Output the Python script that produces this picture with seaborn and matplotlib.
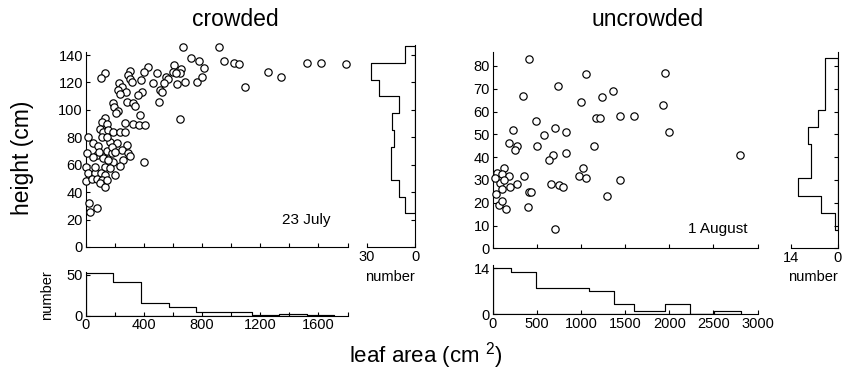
import numpy as np
import pandas as pd
import matplotlib
matplotlib.use("Agg")
import matplotlib.pyplot as plt
import seaborn as sns

# ---------------- data ----------------
crowded_area = [132, 103, 308, 288, 304, 320, 429, 402, 464, 379, 231, 251, 219, 274, 235, 384,
                361, 281, 327, 338, 190, 196, 219, 206, 372, 132, 110, 144, 98, 121, 155, 190,
                270, 322, 368, 407, 235, 270, 18, 48, 87, 11, 75, 121, 144, 167, 212, 281, 247,
                292, 304, 258, 190, 235, 132, 167, 121, 400, 3, 18, 64, 103, 132, 201, 5, 41, 75,
                110, 98, 132, 25, 75, 30, 669, 914, 722, 779, 811, 950, 1023, 1057, 1092, 608,
                601, 658, 646, 624, 493, 555, 566, 539, 509, 525, 628, 685, 765, 802, 502, 646,
                1252, 1345, 1519, 1617, 1790, 53, 94, 64, 155, 178, 148, 110, 178, 201, 144]
crowded_height = [127.1, 123.5, 128.6, 125.4, 122.3, 120.1, 131.0, 127.4, 119.8, 121.8, 119.8,
                  116.9, 114.5, 113.3, 111.3, 113.3, 110.9, 105.5, 104.8, 103.1, 105.3, 101.9,
                  99.2, 97.5, 96.3, 93.8, 91.4, 89.7, 85.8, 84.1, 85.3, 84.1, 90.2, 89.7, 89.0,
                  89.0, 84.1, 84.1, 80.0, 75.6, 73.7, 68.3, 67.1, 66.4, 70.0, 76.8, 76.1, 74.4,
                  70.7, 68.3, 66.4, 63.4, 62.2, 59.1, 58.6, 57.4, 64.7, 62.2, 58.6, 53.7, 53.7,
                  53.7, 52.5, 52.5, 48.4, 49.3, 49.3, 48.9, 46.9, 44.0, 32.3, 28.2, 25.8, 145.6,
                  145.6, 137.6, 135.7, 130.3, 135.9, 133.9, 133.2, 116.9, 132.7, 127.9, 129.6,
                  126.7, 126.7, 126.7, 124.2, 122.3, 119.8, 114.5, 113.3, 118.9, 120.6, 120.6,
                  123.7, 105.5, 93.1, 127.9, 123.7, 134.0, 134.0, 133.5, 65.9, 69.5, 58.6, 63.4,
                  68.3, 48.9, 80.5, 73.2, 69.5, 80.5]

uncrowded_area = [416, 1059, 1948, 738, 348, 1362, 1237, 999, 1933, 492, 1173, 1218, 1438, 1596,
                  235, 579, 707, 828, 1994, 185, 280, 257, 499, 1150, 681, 639, 832, 2807, 45,
                  129, 110, 189, 83, 129, 34, 110, 197, 272, 356, 416, 431, 76, 106, 151, 397,
                  658, 749, 802, 976, 1018, 1059, 1438, 1298, 704, 23]
uncrowded_height = [83.1, 76.5, 77.1, 71.2, 67.0, 69.2, 66.4, 64.4, 62.9, 56.0, 57.0, 57.0, 58.2,
                    58.2, 51.9, 49.9, 52.9, 51.0, 50.9, 46.1, 44.9, 43.1, 44.9, 44.9, 41.1, 38.8,
                    42.0, 40.9, 33.2, 35.1, 32.6, 31.9, 28.8, 30.0, 23.8, 25.9, 26.8, 28.1, 31.7,
                    24.9, 24.9, 19.0, 20.9, 17.1, 18.0, 28.1, 27.8, 26.8, 31.9, 35.1, 31.0, 30.0,
                    23.0, 8.6, 30.7]

# histogram counts
crowded_area_edges = [0, 190, 380, 570, 760, 950, 1140, 1330, 1520, 1710]
crowded_area_counts = [52, 41, 16, 11, 5, 5, 1, 2, 1]
crowded_height_edges = [24.5, 36.7, 48.9, 61.1, 73.3, 85.5, 97.7, 109.9, 122.1, 134.3, 146.5]
crowded_height_counts = [6, 10, 15, 15, 13, 14, 10, 22, 27, 6]

uncrowded_area_edges = [0, 205, 490, 790, 1090, 1370, 1600, 1950, 2230, 2510, 2810]
uncrowded_area_counts = [14, 13, 8, 8, 7, 3, 1, 3, 0, 1]
uncrowded_height_edges = [8.0, 15.55, 23.1, 30.65, 38.2, 45.75, 53.3, 60.85, 68.4, 75.95, 83.5]
uncrowded_height_counts = [1, 5, 12, 8, 8, 9, 6, 4, 4, 4]

crowded_xtick_labels = ["0", "", "400", "", "800", "", "1200", "", "1600", ""]
uncrowded_xtick_labels = ["0", "500", "1000", "1500", "2000", "2500", "3000"]

# ---------------- style ----------------
sns.set_style("ticks")
plt.rcParams["font.family"] = ["Liberation Sans", "DejaVu Sans"]
plt.rcParams["mathtext.fontset"] = "custom"
plt.rcParams["mathtext.rm"] = "Liberation Sans"
plt.rcParams["mathtext.it"] = "Liberation Sans:italic"
plt.rcParams["mathtext.default"] = "regular"
plt.rcParams["axes.linewidth"] = 0.8
plt.rcParams["axes.edgecolor"] = "black"
plt.rcParams["text.color"] = "black"
plt.rcParams["axes.labelcolor"] = "black"
plt.rcParams["xtick.color"] = "black"
plt.rcParams["ytick.color"] = "black"
plt.rcParams["xtick.direction"] = "in"
plt.rcParams["ytick.direction"] = "in"
plt.rcParams["xtick.major.size"] = 3
plt.rcParams["ytick.major.size"] = 3
plt.rcParams["xtick.major.width"] = 0.8
plt.rcParams["ytick.major.width"] = 0.8

W, H = 843, 374
fig = plt.figure(figsize=(W / 100, H / 100), dpi=100)
fig.patch.set_facecolor("white")


def rect(l, r, top, bottom):
    return [l / W, 1 - bottom / H, (r - l) / W, (bottom - top) / H]


TICK_FS = 10.5


def centers(edges):
    e = np.asarray(edges, dtype=float)
    return (e[:-1] + e[1:]) / 2


def panel(xs, ys, xedges, xcounts, yedges, ycounts, sc_rect, vh_rect, hh_rect,
          xmax, xstep, xlabels, ymax_sc, ystep, ymax_vh, vh_max, hh_ymax, hh_yticks,
          note, note_pos):
    ax = fig.add_axes(rect(*sc_rect))
    df = pd.DataFrame({"area": xs, "height": ys})
    sns.scatterplot(data=df, x="area", y="height", ax=ax, s=28, facecolor="white",
                    edgecolor="black", linewidth=0.85, zorder=3, clip_on=False)
    ax.set_xlim(0, xmax)
    ax.set_ylim(0, ymax_sc)
    ax.set_xticks(np.arange(0, xmax + 1, xstep))
    ax.set_xticklabels([])
    ax.set_yticks(np.arange(0, ymax_sc, ystep))
    ax.tick_params(axis="y", labelsize=TICK_FS, pad=2)
    ax.set_xlabel("")
    ax.set_ylabel("")
    sns.despine(ax=ax)
    ax.text(note_pos[0], note_pos[1], note, transform=ax.transAxes, fontsize=11,
            ha="center", va="center")

    # vertical histogram (height)
    axv = fig.add_axes(rect(*vh_rect))
    sns.histplot(y=centers(yedges), weights=ycounts, bins=yedges, element="step",
                 fill=True, color="black", facecolor="none", edgecolor="black",
                 linewidth=0.85, ax=axv)
    axv.set_xlim(vh_max, 0)
    axv.set_ylim(0, ymax_vh)
    axv.set_xticks([vh_max, 0])
    axv.set_xticklabels([str(vh_max), "0"])
    axv.yaxis.tick_right()
    axv.set_yticks(np.arange(0, ymax_vh, ystep))
    axv.set_yticklabels([])
    axv.tick_params(axis="x", labelsize=TICK_FS, pad=2)
    axv.set_xlabel("")
    axv.set_ylabel("")
    for s in ["top", "left"]:
        axv.spines[s].set_visible(False)
    axv.spines["right"].set_visible(True)

    # horizontal histogram (leaf area)
    axh = fig.add_axes(rect(*hh_rect))
    sns.histplot(x=centers(xedges), weights=xcounts, bins=xedges, element="step",
                 fill=True, color="black", facecolor="none", edgecolor="black",
                 linewidth=0.85, ax=axh)
    axh.set_xlim(0, xmax)
    axh.set_ylim(0, hh_ymax)
    axh.set_xticks(np.arange(0, xmax + 1, xstep))
    axh.set_xticklabels(xlabels)
    axh.set_yticks(hh_yticks)
    axh.tick_params(axis="both", labelsize=TICK_FS, pad=2)
    axh.set_xlabel("")
    axh.set_ylabel("")
    sns.despine(ax=axh)
    return ax, axv, axh


# crowded
panel(crowded_area, crowded_height, crowded_area_edges, crowded_area_counts,
      crowded_height_edges, crowded_height_counts,
      (85.7, 347.5, 52.3, 247.0), (366.5, 415.0, 44.8, 247.0), (85.7, 347.5, 271.7, 315.7),
      xmax=1800, xstep=200, xlabels=crowded_xtick_labels, ymax_sc=142, ystep=20,
      ymax_vh=147.5, vh_max=30, hh_ymax=54, hh_yticks=[0, 50], note="23 July",
      note_pos=(0.843, 0.139))

# uncrowded
panel(uncrowded_area, uncrowded_height, uncrowded_area_edges, uncrowded_area_counts,
      uncrowded_height_edges, uncrowded_height_counts,
      (492.7, 757.5, 52.3, 248.3), (791.0, 838.0, 52.3, 248.3), (492.7, 757.5, 265.0, 314.3),
      xmax=3000, xstep=500, xlabels=uncrowded_xtick_labels, ymax_sc=86, ystep=10,
      ymax_vh=86, vh_max=14, hh_ymax=15, hh_yticks=[0, 14], note="1 August",
      note_pos=(0.851, 0.098))

# titles and shared labels
fig.text(235 / W, 1 - 20 / H, "crowded", fontsize=16.5, ha="center", va="center")
fig.text(648 / W, 1 - 20 / H, "uncrowded", fontsize=16.5, ha="center", va="center")
fig.text(22 / W, 1 - 158 / H, "height (cm)", fontsize=16.5, rotation=90,
         ha="center", va="center")
fig.text(426 / W, 1 - 356 / H, "leaf area (cm $^{2}$)", fontsize=16, ha="center", va="center")
fig.text(47 / W, 1 - 295 / H, "number", fontsize=10.5, rotation=90, ha="center", va="center")
fig.text(390 / W, 1 - 277 / H, "number", fontsize=10.5, ha="center", va="center")
fig.text(813 / W, 1 - 277 / H, "number", fontsize=10.5, ha="center", va="center")

fig.savefig("out.png", dpi=100, facecolor="white")
